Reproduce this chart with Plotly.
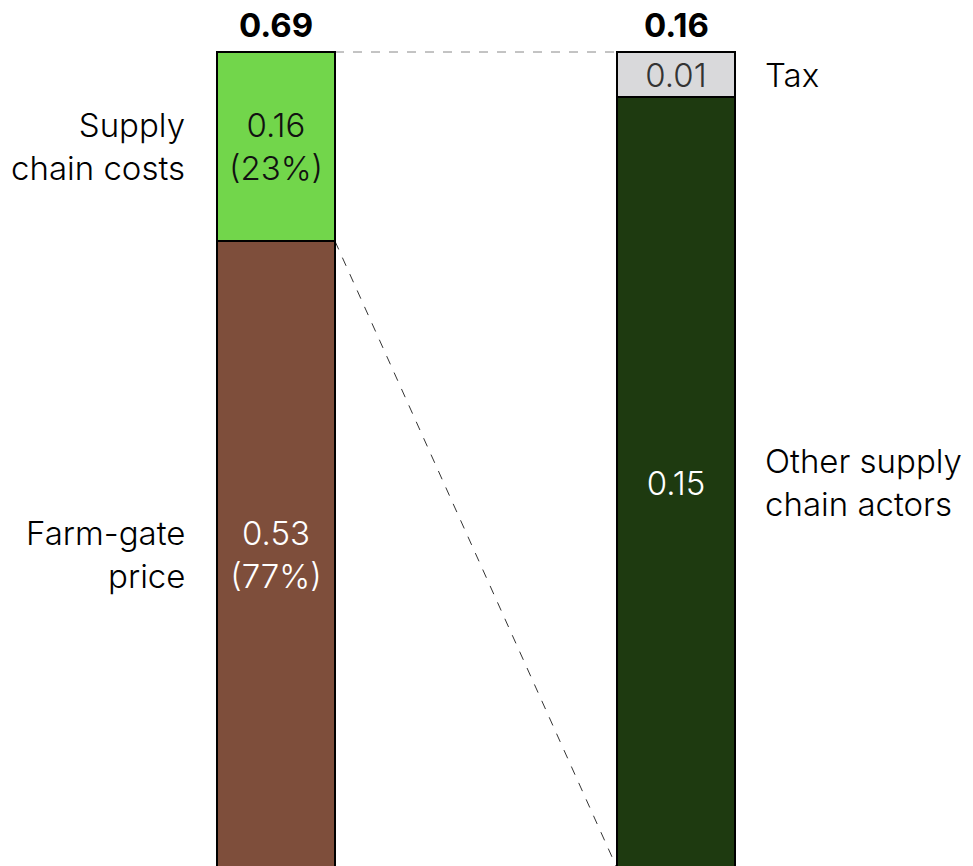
import plotly.graph_objects as go

# ---- data ----
left_category = "Price"
right_category = "Supply chain costs"
left_segments = ["Farm-gate price", "Supply chain costs"]
left_values = [0.53, 0.16]
left_colors = ["#7E4E3B", "#72D64B"]
left_text_colors = ["#FFFFFF", "#111111"]
left_labels = ["Farm-gate<br>price", "Supply<br>chain costs"]

right_segments = ["Other supply chain actors", "Tax"]
right_values = [0.1511, 0.0089]
right_colors = ["#1E3A10", "#D9D9DB"]
right_text_colors = ["#FFFFFF", "#333333"]
right_labels = ["Other supply<br>chain actors", "Tax"]

FONT = "Inter"
FS = 33
BAR_W = 0.295

left_total = sum(left_values)
right_total = sum(right_values)

fig = go.Figure()

for name, v, c, tc in zip(left_segments, left_values, left_colors, left_text_colors):
    fig.add_trace(go.Bar(
        x=[left_category], y=[v], name=name, width=BAR_W,
        marker=dict(color=c, line=dict(color="#000000", width=2)),
        text=[f"{v:.2f}<br>({v / left_total * 100:.0f}%)"],
        textposition="inside", insidetextanchor="middle", textangle=0,
        constraintext="none",
        insidetextfont=dict(family=FONT, size=FS, color=tc, weight=300),
        yaxis="y", hoverinfo="skip",
    ))

for name, v, c, tc in zip(right_segments, right_values, right_colors, right_text_colors):
    fig.add_trace(go.Bar(
        x=[right_category], y=[v], name=name, width=BAR_W,
        marker=dict(color=c, line=dict(color="#000000", width=2)),
        text=[f"{v:.2f}"],
        textposition="inside", insidetextanchor="middle", textangle=0,
        constraintext="none",
        insidetextfont=dict(family=FONT, size=FS, color=tc, weight=300),
        yaxis="y2", hoverinfo="skip",
    ))

# axis ranges: bar tops at same pixel, zero just below the page bottom
top_pad = 12 / 816
bot_pad = 2 / 816
def yrange(total):
    return [total * bot_pad, total * (1 + top_pad)]

annotations = []
# totals
for cat, total, yref in [(left_category, left_total, "y"), (right_category, right_total, "y2")]:
    annotations.append(dict(
        x=cat, y=total, xref="x", yref=yref, text=f"<b>{total:.2f}</b>",
        showarrow=False, yanchor="bottom", yshift=5,
        font=dict(family=FONT, size=FS, color="#000000"),
    ))

# side labels, left
base = 0
for v, lab in zip(left_values, left_labels):
    annotations.append(dict(
        x=0 - BAR_W / 2, y=base + v / 2, xref="x", yref="y", text=lab,
        showarrow=False, xanchor="right", align="right", xshift=-30,
        font=dict(family=FONT, size=FS, color="#000000", weight=300),
    ))
    base += v
base = 0
for v, lab in zip(right_values, right_labels):
    annotations.append(dict(
        x=1 + BAR_W / 2, y=base + v / 2, xref="x", yref="y2", text=lab,
        showarrow=False, xanchor="left", align="left", xshift=28,
        font=dict(family=FONT, size=FS, color="#000000", weight=300),
    ))
    base += v

shapes = [
    dict(type="line", xref="x", yref="y", x0=BAR_W / 2, x1=1 - BAR_W / 2,
         y0=left_total, y1=left_total, line=dict(color="#888888", width=1, dash="dash"),
         layer="below"),
    dict(type="line", xref="x", yref="y", x0=BAR_W / 2, x1=1 - BAR_W / 2,
         y0=left_values[0], y1=0, line=dict(color="#333333", width=1, dash="dash"),
         layer="below"),
]

fig.update_layout(
    width=973, height=866,
    margin=dict(l=0, r=0, t=40, b=0),
    barmode="stack",
    showlegend=False,
    plot_bgcolor="#FFFFFF", paper_bgcolor="#FFFFFF",
    xaxis=dict(type="category", categoryorder="array",
               categoryarray=[left_category, right_category],
               range=[-0.69, -0.69 + 973 / 400], visible=False,
               showgrid=False, zeroline=False),
    yaxis=dict(range=yrange(left_total), visible=False, showgrid=False, zeroline=False),
    yaxis2=dict(range=yrange(right_total), overlaying="y", side="right",
                visible=False, showgrid=False, zeroline=False),
    annotations=annotations,
    shapes=shapes,
    font=dict(family=FONT),
)

fig.write_html("out.html")
